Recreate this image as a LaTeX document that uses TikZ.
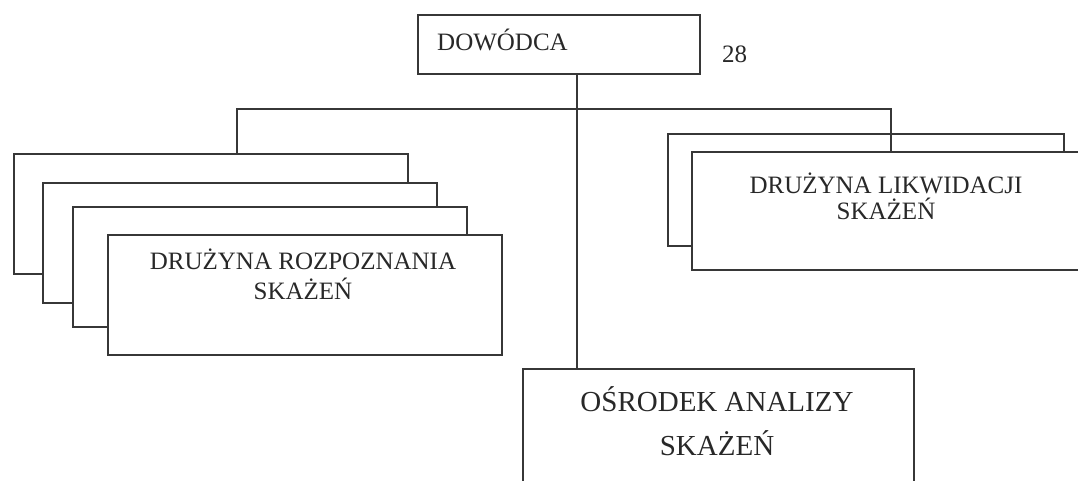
\documentclass[tikz,border=0pt]{standalone}
\usepackage{fontspec}
\setmainfont{Liberation Serif}
\definecolor{ink}{RGB}{55,55,55}
\definecolor{txtc}{RGB}{40,40,40}
\begin{document}
\begin{tikzpicture}[x=1pt,y=-1pt,
  box/.style={draw=ink, line width=1.5pt, fill=white, inner sep=0pt, anchor=north west},
  lbl/.style={text=txtc, inner sep=0pt, align=center, font=\fontsize{25}{30}\selectfont},
  link/.style={draw=ink, line width=1.5pt}]
\useasboundingbox (0,0) rectangle (1078,480);
\clip (0,0) rectangle (1078,480);
\fill[white] (0,0) rectangle (1078,480);

% commander
\node[box, minimum width=282pt, minimum height=59pt] (cmd) at (417,14) {};
\node[lbl, anchor=base west] (cmdt) at (437,50) {DOWÓDCA};
\node[lbl, anchor=base west] (num) at (722,62) {28};

% junction coordinates
\coordinate (hubL) at (237,109);
\coordinate (hub)  at (577,109);
\coordinate (hubR) at (891,109);

% left stack (reconnaissance teams)
\node[box, minimum width=394pt, minimum height=120pt] (L1) at (13,153) {};
\node[box, minimum width=394pt, minimum height=120pt] (L2) at (42,182) {};
\node[box, minimum width=394pt, minimum height=120pt] (L3) at (72,206) {};
\node[box, minimum width=394pt, minimum height=120pt] (L4) at (107,234) {};
\node[lbl, anchor=north] (L4t) at (303,249) {DRUŻYNA ROZPOZNANIA\\SKAŻEŃ};

% right stack (decontamination teams)
\node[box, minimum width=396pt, minimum height=112pt] (R1) at (667,133) {};
\draw[link] (L1.north -| hubL) |- (hubR) -- (hubR |- 0,151);
\node[box, minimum width=420pt, minimum height=118pt] (R2) at (691,151) {};
\node[lbl, font=\fontsize{25}{26}\selectfont, anchor=north] (R2t) at (886,173) {DRUŻYNA LIKWIDACJI\\SKAŻEŃ};

% analysis centre
\node[box, minimum width=391pt, minimum height=116pt] (osr) at (522,368) {};
\node[lbl, font=\fontsize{29}{44}\selectfont, anchor=north] (osrt) at (717,386) {OŚRODEK ANALIZY\\SKAŻEŃ};

% trunk
\draw[link] (cmd.south -| hub) -- (osr.north -| hub);
\end{tikzpicture}
\end{document}
